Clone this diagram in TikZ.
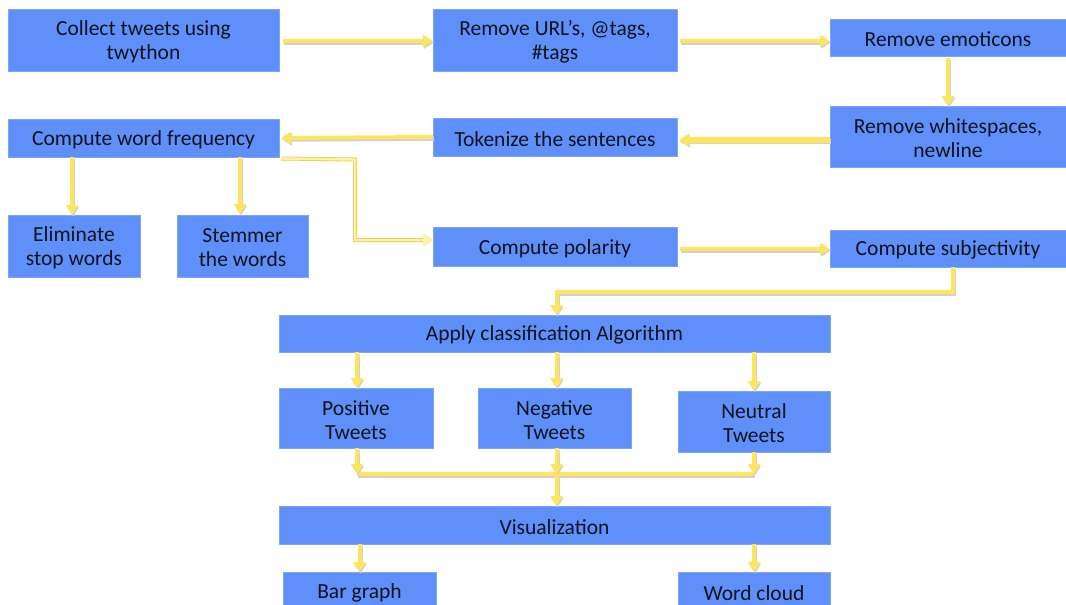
\documentclass[tikz,border=0pt]{standalone}
\usepackage{fontspec}
\setmainfont{Carlito}
\usetikzlibrary{arrows.meta}
\definecolor{boxblue}{HTML}{5F8FF8}
\definecolor{arrowyel}{HTML}{FFE55C}
\definecolor{paleyel}{HTML}{FFF2A8}
\definecolor{txt}{HTML}{10141E}
\tikzset{
  flowbox/.style={fill=boxblue, draw=boxblue!80!white, line width=0.6pt,
     inner sep=0pt, outer sep=0pt},
  flowtext/.style={text=txt, font=\fontsize{21.5}{24}\selectfont, align=center, inner sep=0pt},
  arr/.style={draw=arrowyel, line width=4pt, -{Triangle[length=10pt,width=12pt]},
     preaction={draw=black!18, line width=4.5pt, transform canvas={xshift=1pt,yshift=-1.5pt}}},
  ln/.style={draw=arrowyel, line width=4pt,
     preaction={draw=black!18, line width=4.5pt, transform canvas={xshift=1pt,yshift=-1.5pt}}},
  paleln/.style={draw=arrowyel!90!black, line width=4pt, postaction={draw=paleyel, line width=2.4pt},
     -{Triangle[length=10pt,width=12pt]}},
}
\newcommand{\bx}[6]{\node[flowbox, minimum width=#4pt, minimum height=#5pt] (#1) at (#2,#3) {};
  \node[flowtext] (#1-t) at ([yshift=-1.8pt]#1.center) {#6};}
\begin{document}
\begin{tikzpicture}[x=1pt,y=-1pt]
\useasboundingbox (0,0) rectangle (1066,605);
\bx{collect}{143.5}{40}{271}{62}{Collect tweets using\\twython}
\bx{url}{555}{40}{244}{62}{Remove URL’s, @tags,\\\#tags}
\bx{emot}{948}{37.5}{236}{37}{Remove emoticons}
\bx{white}{948}{136.5}{236}{61}{Remove whitespaces,\\newline}
\bx{token}{555}{137}{244}{38}{Tokenize the sentences}
\bx{freq}{143.5}{138}{271}{38}{Compute word frequency}
\bx{elim}{74}{246}{132}{62}{Eliminate\\stop words}
\bx{stem}{242.5}{246}{131}{62}{Stemmer\\the words}
\bx{pol}{555}{246.5}{244}{39}{Compute polarity}
\bx{subj}{948}{248.5}{236}{37}{Compute subjectivity}
\bx{cls}{554.5}{333.5}{551}{37}{Apply classification Algorithm}
\bx{pos}{356}{418}{154}{60}{Positive\\Tweets}
\bx{neg}{554.5}{418}{153}{60}{Negative\\Tweets}
\bx{neu}{754}{421.5}{152}{61}{Neutral\\Tweets}
\bx{vis}{554.5}{525}{551}{38}{Visualization}
\bx{bar}{359.5}{591}{153}{38}{Bar graph}
\bx{cloud}{754}{591}{152}{38}{Word cloud}

\coordinate (m) at (554.5,474);

\draw[arr] ([xshift=4pt,yshift=-1pt]collect.east) -- ([yshift=-1pt]url.west);
\draw[arr] ([xshift=3pt,yshift=-1pt]url.east) -- ([yshift=-3.5pt]emot.west);
\draw[arr] ([yshift=-2pt]emot.south) -- (white.north);
\draw[arr, line width=5.5pt] ([yshift=-3.5pt]white.west) -- ([xshift=2pt,yshift=-3pt]token.east);
\draw[arr] (token.west) -- ([xshift=2pt]freq.west -| freq.east);
\draw[arr] (freq.south -| elim.north) ++(-2,0) -- ([xshift=-2pt]elim.north);
\draw[arr] (freq.south -| 240,0) -- (240,214);
\draw[paleln] ([xshift=2pt,yshift=-1.5pt]freq.south east) -- (355,159.5) -- (355,240) -- ([yshift=6.5pt]pol.west);
\draw[arr] ([xshift=3pt,yshift=-2.5pt]pol.east) -- ([yshift=-0.5pt]subj.west);
\draw[arr] ([xshift=5pt]subj.south) -- (953,292) -| ([xshift=2pt]cls.north);
\draw[arr] ([xshift=1pt]pos.north |- cls.south) -- ([xshift=1pt]pos.north);
\draw[arr] ([xshift=2pt]neg.north |- cls.south) -- ([xshift=2pt]neg.north);
\draw[arr] (neu.north |- cls.south) -- (neu.north);
\draw[ln] ([xshift=1pt]pos.south |- m) -- (neu.south |- m);
\draw[arr] ([xshift=1pt]pos.south) -- ([xshift=1pt]pos.south |- m);
\draw[arr] ([xshift=2pt]neg.south) -- ([xshift=2pt]neg.south |- m);
\draw[arr] (neu.south) -- (neu.south |- m);
\draw[arr] ([xshift=2pt]m) -- ([xshift=2pt]vis.north);
\draw[arr] (bar.north |- vis.south) -- (bar.north);
\draw[arr] (cloud.north |- vis.south) -- (cloud.north);
\end{tikzpicture}
\end{document}
